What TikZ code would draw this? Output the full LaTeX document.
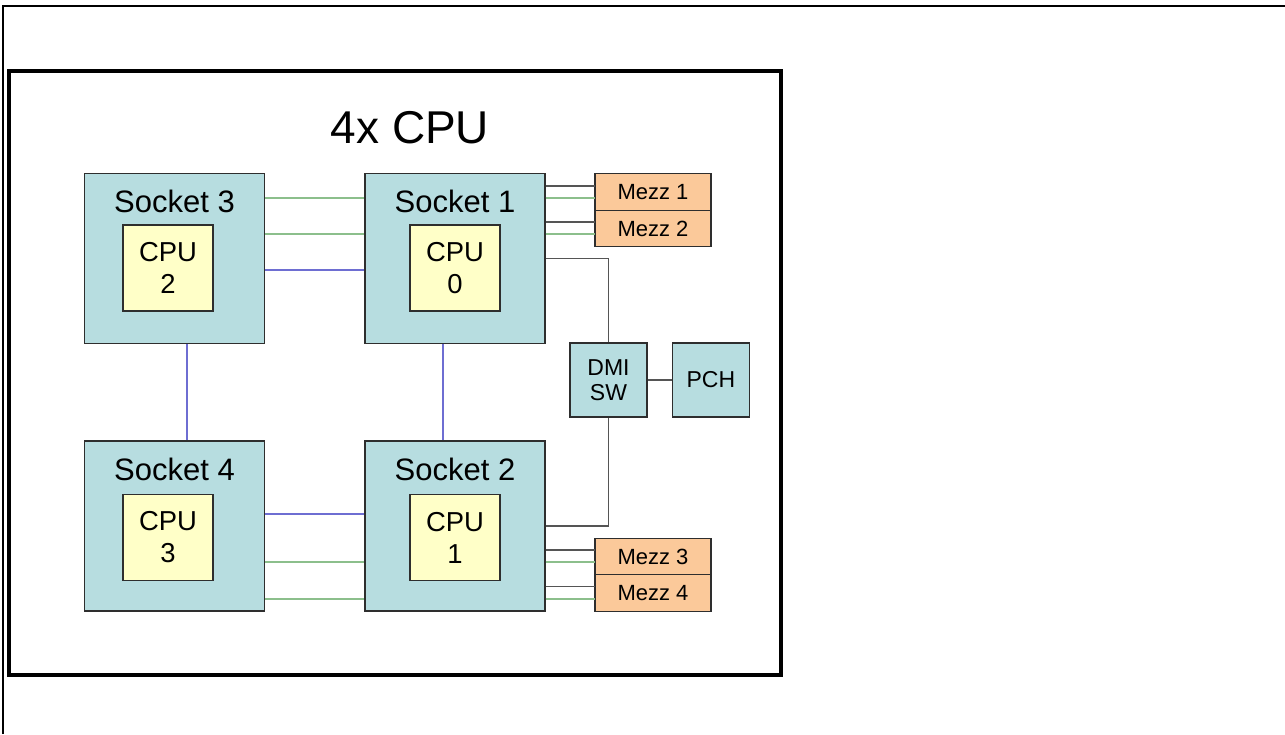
\documentclass[tikz,border=0pt]{standalone}
\usepackage{fontspec}
\setmainfont{Liberation Sans}
\usetikzlibrary{calc,positioning}
\definecolor{Edge}{HTML}{2E2E2E}
\definecolor{SockFill}{HTML}{B7DDE0}
\definecolor{CpuFill}{HTML}{FFFFC8}
\definecolor{MezzFill}{HTML}{FBC99A}
\definecolor{LinkGreen}{HTML}{8CBF8C}
\definecolor{LinkBlue}{HTML}{6E6ED2}
\definecolor{Wire}{HTML}{555555}

\begin{document}
\begin{tikzpicture}[
    x=0.5pt,y=-0.5pt,
    socket/.style={draw=Edge,fill=SockFill,line width=0.7pt,inner sep=0pt,
      minimum width=90pt,minimum height=85pt},
    sockname/.style={anchor=center,yshift=-14.5pt,font=\fontsize{15.5}{18}\selectfont},
    cpu/.style={draw=Edge,fill=CpuFill,line width=0.7pt,inner sep=0pt,align=center,
      minimum width=45pt,minimum height=43pt,font=\fontsize{13.7}{16}\selectfont},
    mezz/.style={draw=Edge,fill=MezzFill,line width=0.7pt,inner sep=0pt,outer sep=0pt,
      minimum width=58pt,minimum height=18.25pt,font=\fontsize{11}{13}\selectfont},
    hub/.style={draw=Edge,fill=SockFill,line width=0.7pt,inner sep=0pt,align=center,
      minimum width=38.5pt,minimum height=37pt,font=\fontsize{11.5}{12.5}\selectfont},
    upi/.style={draw=LinkGreen,line width=0.65pt},
    upiblue/.style={draw=LinkBlue,line width=0.65pt},
    wire/.style={draw=Wire,line width=0.6pt}
]
\useasboundingbox (0,0) rectangle (1285,734);
% page frame
\draw[line width=0.9pt] (3,734) -- (3,6) -- (1285,6);

\node[draw,line width=2.2pt,minimum width=386pt,minimum height=302pt] (board) at (395,373) {};
\node[font=\fontsize{23}{27}\selectfont] (title) at (410,128) {4x CPU};

% sockets
\node[socket,label={[sockname]north:Socket 3}] (s3) at (174.5,258.5) {};
\node[socket,label={[sockname]north:Socket 1}] (s1) at (455,258.5) {};
\node[socket,label={[sockname]north:Socket 4}] (s4) at (174.5,526) {};
\node[socket,label={[sockname]north:Socket 2}] (s2) at (455,526) {};

\node[cpu] (cpu2) at (168,268) {CPU\\2};
\node[cpu] (cpu0) at (455,268) {CPU\\0};
\node[cpu] (cpu3) at (168,537.5) {CPU\\3};
\node[cpu] (cpu1) at (455,537.5) {CPU\\1};

% mezzanine cards
\node[mezz] (m1) at (653,192) {Mezz 1};
\node[mezz,below=0pt of m1] (m2) {Mezz 2};
\node[mezz] (m3) at (653,556.5) {Mezz 3};
\node[mezz,below=0pt of m3] (m4) {Mezz 4};

\node[hub] (dmi) at (608.5,380) {DMI\\SW};
\node[hub,right=12pt of dmi] (pch) {PCH};

% socket links
\foreach \dy in {-60.5,-24.5}
  \draw[upi] ($(s3.east)+(0,\dy)$) -- ($(s1.west)+(0,\dy)$);
\draw[upiblue] ($(s3.east)+(0,11.5)$) -- ($(s1.west)+(0,11.5)$);
\draw[upiblue] ($(s4.east)+(0,-12)$) -- ($(s2.west)+(0,-12)$);
\foreach \dy in {36,73}
  \draw[upi] ($(s4.east)+(0,\dy)$) -- ($(s2.west)+(0,\dy)$);
\draw[upiblue] ($(s3.south)+(12.5,0)$) -- ($(s4.north)+(12.5,0)$);
\draw[upiblue] ($(s1.south)+(-12,0)$) -- ($(s2.north)+(-12,0)$);

% socket to mezz
\draw[wire] ($(s1.east)+(0,-72.5)$) -- ($(m1.west)+(0,-6)$);
\draw[upi] ($(s1.east)+(0,-60.5)$) -- ($(m1.west)+(0,6)$);
\draw[wire] ($(s1.east)+(0,-36.5)$) -- ($(m2.west)+(0,-6.5)$);
\draw[upi] ($(s1.east)+(0,-24.5)$) -- ($(m2.west)+(0,5.5)$);
\draw[wire] ($(s2.east)+(0,24)$) -- ($(m3.west)+(0,-6.5)$);
\draw[upi] ($(s2.east)+(0,36)$) -- ($(m3.west)+(0,5.5)$);
\draw[wire] ($(s2.east)+(0,60.5)$) -- ($(m4.west)+(0,-6.5)$);
\draw[upi] ($(s2.east)+(0,73)$) -- ($(m4.west)+(0,6)$);

% DMI path
\draw[wire] (s1.east) -| (dmi.north);
\draw[wire] (dmi.south) |- (s2.east);
\draw[wire] (dmi) -- (pch);
\end{tikzpicture}
\end{document}
